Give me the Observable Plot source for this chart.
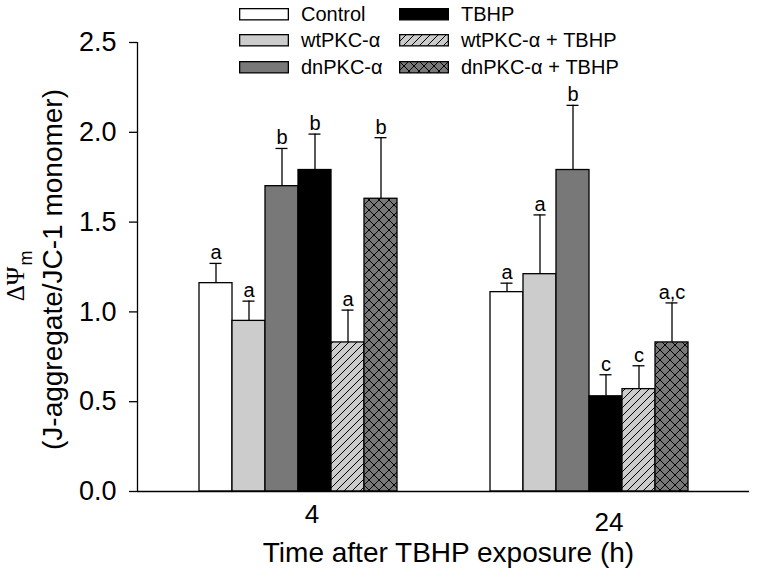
<!DOCTYPE html>
<html><head><meta charset="utf-8">
<script src="https://cdn.jsdelivr.net/npm/d3@7"></script>
<script src="https://cdn.jsdelivr.net/npm/@observablehq/plot@0.6"></script>
<style>
body{margin:0;background:#fff;}
#wrap{position:relative;width:783px;height:573px;font-family:"Liberation Sans",Arial,sans-serif;overflow:hidden;}
.layer{position:absolute;left:0;top:0;}
.leg{position:absolute;font-size:20px;line-height:20px;white-space:nowrap;color:#000;}
.sw{position:absolute;}
</style></head><body><div id="wrap"></div>
<script>
// ---- data ----
const times = ["4", "24"];
const conditions = ["Control", "wtPKC-α", "dnPKC-α", "TBHP", "wtPKC-α + TBHP", "dnPKC-α + TBHP"];
const fills = ["#ffffff", "#cccccc", "#787878", "#000000", "url(#hatch)", "url(#cross)"];
const mean4  = [1.16, 0.95, 1.70, 1.79, 0.83, 1.63];
const sd4    = [0.11, 0.11, 0.21, 0.20, 0.18, 0.34];
const letters4 = ["a", "a", "b", "b", "a", "b"];
const mean24 = [1.11, 1.21, 1.79, 0.53, 0.57, 0.83];
const sd24   = [0.05, 0.33, 0.36, 0.12, 0.13, 0.22];
const letters24 = ["a", "a", "b", "c", "c", "a,c"];
const yTicks = [0, 0.5, 1.0, 1.5, 2.0, 2.5];
const xTitle = "Time after TBHP exposure (h)";
const yTitleMain = "ΔΨ";
const yTitleSub = "m";
const yTitleUnit = "(J-aggregate/JC-1 monomer)";

const means = {"4": mean4, "24": mean24};
const sds = {"4": sd4, "24": sd24};
const letters = {"4": letters4, "24": letters24};
const table = [];
for (const t of times) conditions.forEach((c, j) => {
  table.push({time: t, condition: c, value: means[t][j], err: means[t][j] + sds[t][j], letter: letters[t][j]});
});

const W = 783, H = 573;
const M = {top: 42, right: 34, bottom: 82, left: 137};
const FONT = '"Liberation Sans", Arial, sans-serif';
const wrap = document.getElementById("wrap");

// pattern defs
const defs = d3.select(wrap).append("svg").attr("class", "layer").attr("width", 0).attr("height", 0);
const pd = defs.append("defs");
const ph = pd.append("pattern").attr("id", "hatch").attr("patternUnits", "userSpaceOnUse").attr("width", 8).attr("height", 8);
ph.append("rect").attr("width", 8).attr("height", 8).attr("fill", "#cccccc");
ph.append("path").attr("d", "M-2,2 L2,-2 M0,8 L8,0 M6,10 L10,6").attr("stroke", "#000").attr("stroke-width", 1);
const pc = pd.append("pattern").attr("id", "cross").attr("patternUnits", "userSpaceOnUse").attr("width", 10).attr("height", 10);
pc.append("rect").attr("width", 10).attr("height", 10).attr("fill", "#787878");
pc.append("path").attr("d", "M0,0 L10,10 M10,0 L0,10").attr("stroke", "#000").attr("stroke-width", 1);

// bars (faceted by time)
const bars = Plot.plot({
  width: W, height: H,
  marginTop: M.top, marginRight: M.right, marginBottom: M.bottom, marginLeft: M.left,
  style: {background: "transparent", fontFamily: FONT, color: "#000"},
  fx: {domain: times, paddingInner: 0.301, paddingOuter: 0.199, axis: null, label: null},
  x: {domain: conditions, padding: 0, axis: null, label: null},
  y: {domain: [0, 2.5], axis: null},
  color: {domain: conditions, range: fills},
  marks: [
    Plot.barY(table, {fx: "time", x: "condition", y: "value", fill: "condition", stroke: "#000", strokeWidth: 1.3}),
    Plot.ruleX(table, {fx: "time", x: "condition", y1: "value", y2: "err", stroke: "#000", strokeWidth: 1.3}),
    Plot.tickY(table, {fx: "time", x: "condition", y: "err", stroke: "#000", strokeWidth: 1.3, insetLeft: 10.5, insetRight: 10.5}),
    Plot.text(table, {fx: "time", x: "condition", y: "err", text: "letter", lineAnchor: "bottom", dy: -4, fontSize: 20, fill: "#000"}),
    Plot.text(times.slice(0, 1), {fx: d => d, text: d => d, frameAnchor: "bottom", textAnchor: "middle", dx: 14, dy: 23, fontSize: 26, lineAnchor: "middle", fill: "#000"}),
    Plot.text(times.slice(1, 2), {fx: d => d, text: d => d, frameAnchor: "bottom", textAnchor: "middle", dx: 20, dy: 31, fontSize: 26, lineAnchor: "middle", fill: "#000"})
  ]
});
bars.classList.add("layer");
wrap.appendChild(bars);

// axes
const axes = Plot.plot({
  width: W, height: H,
  marginTop: M.top, marginRight: M.right, marginBottom: M.bottom, marginLeft: M.left,
  style: {background: "transparent", fontFamily: FONT, color: "#000"},
  x: {domain: [0, 1], axis: null},
  y: {domain: [0, 2.5], axis: null},
  marks: [
    Plot.axisY({ticks: yTicks, tickFormat: d3.format(".1f"), tickSize: 8, tickPadding: 13, fontSize: 27, label: null, strokeWidth: 1.3}),
    Plot.ruleX([0], {stroke: "#000", strokeWidth: 1.3}),
    Plot.ruleY([0], {stroke: "#000", strokeWidth: 1.3}),
    Plot.text([xTitle], {frameAnchor: "bottom", textAnchor: "middle", dx: 5, dy: 62, fontSize: 28, lineAnchor: "middle", fill: "#000"}),
    Plot.text([yTitleUnit], {frameAnchor: "left", textAnchor: "middle", rotate: -90, dx: -84, dy: 2.5, fontSize: 28, lineAnchor: "middle", fill: "#000"}),
    Plot.text([yTitleMain], {frameAnchor: "left", textAnchor: "middle", rotate: -90, dx: -122, dy: 17, fontSize: 25, lineAnchor: "middle", fontFamily: '"Liberation Serif", serif', fill: "#000"}),
    Plot.text([yTitleSub], {frameAnchor: "left", textAnchor: "middle", rotate: -90, dx: -111.5, dy: -9, fontSize: 18, lineAnchor: "middle", fill: "#000"})
  ]
});
axes.classList.add("layer");
wrap.appendChild(axes);

// legend (two columns of three)
const legCols = [239, 399], legTextDx = 62, legRows = [8, 34, 61];
conditions.forEach((c, i) => {
  const col = Math.floor(i / 3), row = i % 3;
  const x = legCols[col], y = legRows[row];
  const sw = d3.select(wrap).append("svg").attr("class", "sw").attr("width", 50).attr("height", 13)
    .style("left", (x - 0.5) + "px").style("top", (y - 0.5) + "px");
  sw.append("rect").attr("x", 0.65).attr("y", 0.65).attr("width", 48.7).attr("height", 11.2)
    .attr("fill", fills[i]).attr("stroke", "#000").attr("stroke-width", 1.3);
  d3.select(wrap).append("div").attr("class", "leg").style("left", (x + legTextDx) + "px").style("top", (y - 4) + "px").text(c);
});
</script></body></html>
